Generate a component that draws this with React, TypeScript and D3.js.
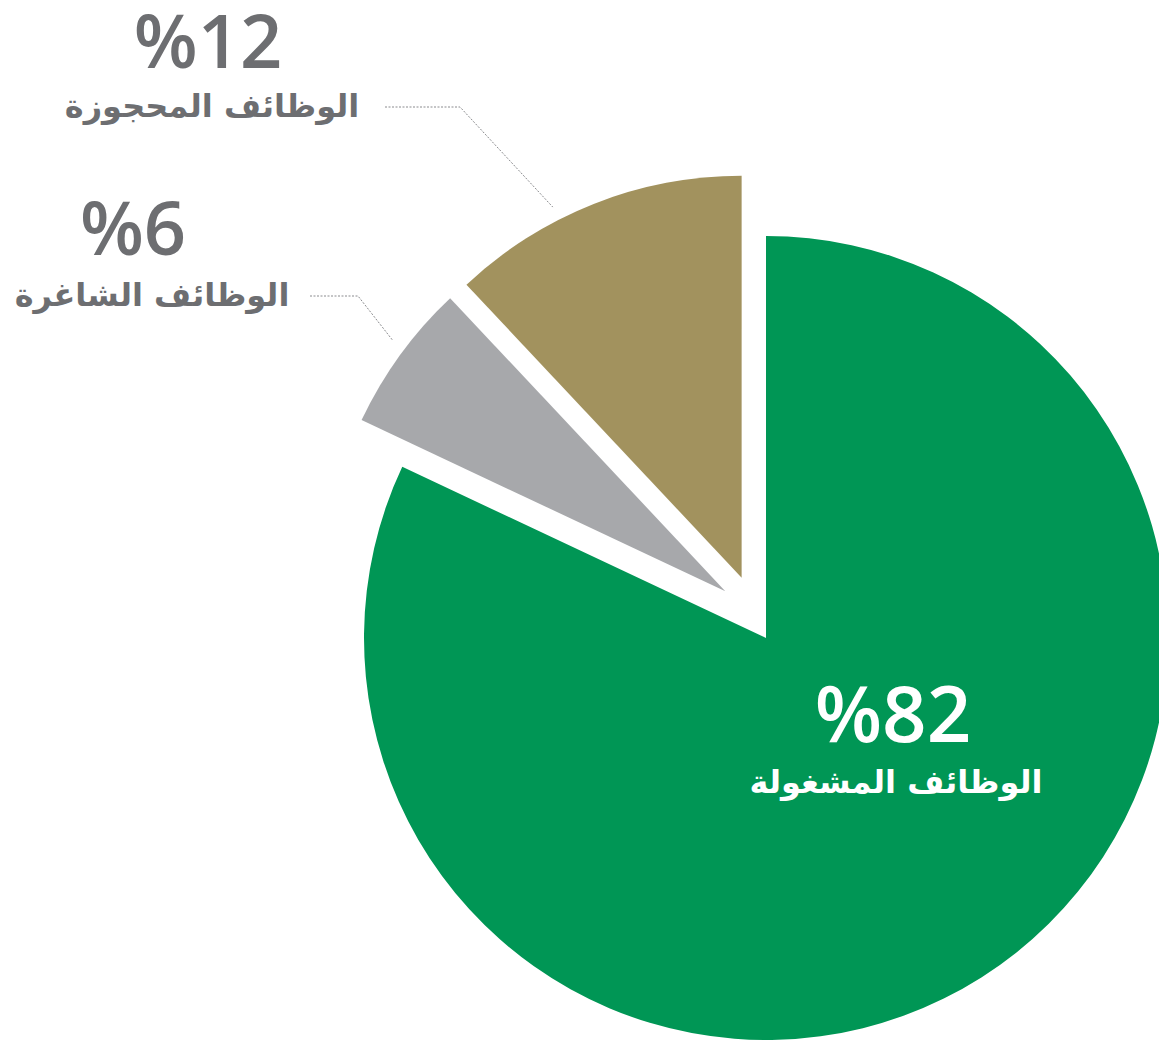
import React, { useEffect, useRef } from 'react';
import * as d3 from 'd3';

// data
const categories: string[] = ['الوظائف المشغولة', 'الوظائف الشاغرة', 'الوظائف المحجوزة'];
const values: number[] = [82, 6, 12];
const valueLabels: string[] = ['%82', '%6', '%12'];

const colors = ['#009655', '#a7a8ab', '#a2925e'];
const textGray = '#6d6e71';

const W = 1159;
const H = 1044;

const App: React.FC = () => {
    const ref = useRef<SVGSVGElement | null>(null);

    useEffect(() => {
        const el = ref.current;
        if (!el) return;
        const svg = d3.select(el);
        svg.selectAll('*').remove();

        const cx = 766;
        const cy = 638;
        const radius = 402;

        // explode offsets per slice (distance, direction in degrees clockwise from top)
        const explode = [
            { dist: 0, deg: 0 },
            { dist: 62, deg: 319 },
            { dist: 65, deg: 338 },
        ];

        const pie = d3.pie<number>().sort(null).value((d) => d);
        const arcs = pie(values);
        const arc = d3.arc<d3.PieArcDatum<number>>().innerRadius(0).outerRadius(radius);

        const off = (i: number): [number, number] => {
            const a = (explode[i].deg * Math.PI) / 180;
            return [Math.sin(a) * explode[i].dist, -Math.cos(a) * explode[i].dist];
        };

        const g = svg.append('g').attr('transform', `translate(${cx},${cy})`);

        g.selectAll('path')
            .data(arcs)
            .enter()
            .append('path')
            .attr('d', arc)
            .attr('fill', (_, i) => colors[i])
            .attr('transform', (_, i) => `translate(${off(i).join(',')})`);

        // labels for the small slices (outside, with dotted leaders)
        const outside = [
            { i: 2, x: 208, labX: 212, numY: 68, labY: 117, elbowX: 460, lineStartX: 385, tipAngle: 333 },
            { i: 1, x: 133, labX: 152, numY: 255, labY: 306, elbowX: 358, lineStartX: 310, tipAngle: 307 },
        ];

        outside.forEach((o) => {
            const [dx, dy] = off(o.i);
            const a = (o.tipAngle * Math.PI) / 180;
            const r = radius + 14;
            const tip: [number, number] = [cx + dx + Math.sin(a) * r, cy + dy - Math.cos(a) * r];
            const ly = o.labY - 10;
            svg.append('polyline')
                .attr('points', [[o.lineStartX, ly], [o.elbowX, ly], tip].map((p) => p.join(',')).join(' '))
                .attr('fill', 'none')
                .attr('stroke', '#8a8b8e')
                .attr('stroke-width', 1)
                .attr('stroke-dasharray', '2,1.5');

            svg.append('text')
                .attr('x', o.x)
                .attr('y', o.numY)
                .attr('text-anchor', 'middle')
                .attr('fill', textGray)
                .style('font-family', '"Open Sans", sans-serif')
                .style('font-weight', 600)
                .style('font-size', '74px')
                .text(valueLabels[o.i]);

            svg.append('text')
                .attr('x', o.labX)
                .attr('y', o.labY)
                .attr('text-anchor', 'middle')
                .attr('fill', textGray)
                .style('font-family', '"DejaVu Sans", sans-serif')
                .style('font-weight', 700)
                .style('font-size', '32px')
                .text(categories[o.i]);
        });

        // label inside the big slice
        svg.append('text')
            .attr('x', 893)
            .attr('y', 742)
            .attr('text-anchor', 'middle')
            .attr('fill', '#fff')
            .style('font-family', '"Open Sans", sans-serif')
            .style('font-weight', 600)
            .style('font-size', '78px')
            .text(valueLabels[0]);

        svg.append('text')
            .attr('x', 896)
            .attr('y', 793)
            .attr('text-anchor', 'middle')
            .attr('fill', '#fff')
            .style('font-family', '"DejaVu Sans", sans-serif')
            .style('font-weight', 700)
            .style('font-size', '32px')
            .text(categories[0]);
    }, []);

    return (
        <div style={{ position: 'fixed', left: 0, top: 0, width: W, height: H, background: '#fff' }}>
            <svg ref={ref} width={W} height={H} style={{ display: 'block' }} />
        </div>
    );
};

export default App;
